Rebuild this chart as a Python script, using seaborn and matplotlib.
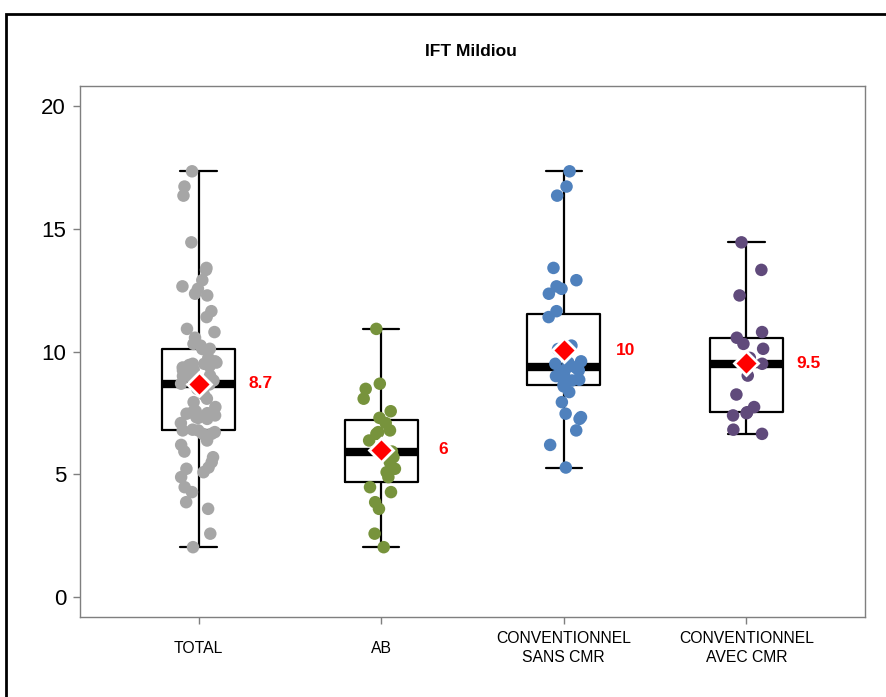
import numpy as np
import pandas as pd
import matplotlib
matplotlib.use("Agg")
import matplotlib.pyplot as plt
from matplotlib.patches import Rectangle
import seaborn as sns

# categories and colours
groups = ["TOTAL", "AB", "CONVENTIONNEL\nSANS CMR", "CONVENTIONNEL\nAVEC CMR"]
colors = ["#a6a6a6", "#77933c", "#4f81bd", "#604a7b"]

# IFT values, one list per group
ab = [10.92, 8.69, 8.48, 8.08, 7.57, 7.30, 7.09, 6.79, 6.72, 6.65, 6.38, 5.93,
      5.70, 5.50, 5.23, 5.09, 4.89, 4.48, 4.28, 3.87, 3.60, 2.59, 2.04]
sans_cmr = [17.33, 16.71, 16.34, 13.40, 12.90, 12.65, 12.55, 12.35, 11.64, 11.40,
            10.10, 10.24, 9.60, 9.55, 9.50, 9.45, 9.40, 9.35, 9.25, 9.23, 9.10,
            9.00, 8.96, 8.85, 8.82, 8.66, 8.58, 8.35, 7.94, 7.47, 7.33, 7.26,
            6.79, 6.20, 5.28]
avec_cmr = [14.44, 13.32, 12.28, 10.79, 10.56, 10.31, 10.11, 9.74, 9.50, 9.02,
            8.25, 7.74, 7.53, 7.49, 7.40, 6.82, 6.65]
# TOTAL is every farm of the three groups together
total = ab + sans_cmr + avec_cmr

values = [total, ab, sans_cmr, avec_cmr]
df = pd.DataFrame({
    "groupe": np.repeat(groups, [len(v) for v in values]),
    "ift": np.concatenate(values),
})

sns.set_theme(style="white")
plt.rcParams["font.family"] = ["Liberation Sans", "DejaVu Sans"]
plt.rcParams["text.color"] = "black"

fig = plt.figure(figsize=(8.87, 6.97), dpi=100)
ax = fig.add_axes([80 / 887, 1 - 617 / 697, 785 / 887, 531 / 697])

np.random.seed(11)
sns.stripplot(data=df, x="groupe", y="ift", order=groups, hue="groupe",
              hue_order=groups, palette=colors, jitter=0.1, size=9,
              linewidth=0, legend=False, ax=ax)

sns.boxplot(data=df, x="groupe", y="ift", order=groups, fill=False,
            color="black", width=0.4, whis=(0, 100), linewidth=1.6,
            showfliers=False, medianprops=dict(linewidth=6, color="black"),
            ax=ax)

sns.pointplot(data=df, x="groupe", y="ift", order=groups, estimator="mean",
              errorbar=None, linestyle="none", marker="D", color="red",
              markersize=12.5, markeredgecolor="white", markeredgewidth=2,
              zorder=5, ax=ax)

means = df.groupby("groupe")["ift"].mean().reindex(groups)
for i, m in enumerate(means):
    ax.text(i + 0.34, m, f"{round(m, 1):g}", color="red", fontsize=12.5,
            fontweight="bold", ha="center", va="center")

ax.set_xlim(-0.65, 3.65)
ax.set_ylim(-0.8, 20.8)
ax.set_yticks([0, 5, 10, 15, 20])
ax.set_xlabel("")
ax.set_ylabel("")
for s in ax.spines.values():
    s.set_color("#7f7f7f")
    s.set_linewidth(1)
ax.tick_params(axis="y", left=True, length=5, width=1, color="#7f7f7f",
               labelsize=16, pad=5, labelcolor="black")
ax.tick_params(axis="x", bottom=True, length=5, width=1, color="#7f7f7f",
               labelsize=11.3, pad=17.5, labelcolor="black")
# R centres the two-line labels around the same height as one-line ones
for lbl in ax.get_xticklabels():
    lbl.set_verticalalignment("center")
    lbl.set_linespacing(1.35)

fig.text(471 / 887, 1 - 52 / 697, "IFT Mildiou", fontsize=12.5,
         fontweight="bold", ha="center", va="center", color="black")

# outer frame of the original export
fig.add_artist(Rectangle((6 / 887, -0.1), 1.2, 1 - 14 / 697 + 0.1,
                         transform=fig.transFigure, fill=False,
                         edgecolor="black", linewidth=2, clip_on=False))

fig.savefig("out.png", dpi=100)
